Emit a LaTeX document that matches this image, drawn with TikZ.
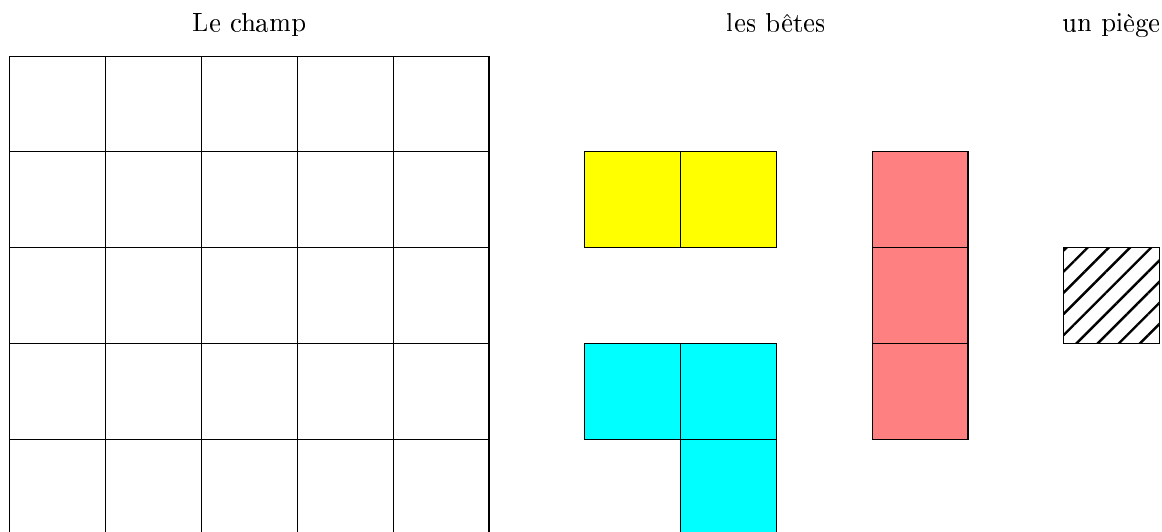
\documentclass[tikz,border=0pt]{standalone}
\usepackage[T1]{fontenc}
\usepackage{xcolor}
\usetikzlibrary{patterns.meta}
\definecolor{beastyellow}{RGB}{255, 255, 0}
\definecolor{beastcyan}{RGB}{0, 255, 255}
\definecolor{beastred}{RGB}{255, 128, 128}

\begin{document}
\begin{tikzpicture}[x=1.26cm, y=1.26cm]
        % Styles
        \tikzset{title/.style={anchor=base, inner sep=0pt}}
        \tikzset{cell/.style={draw=black, thin}}
        \tikzset{trap/.style={draw=black, thin, pattern={Lines[angle=45, distance=5.6pt, line width=0.9pt]}}}

        \useasboundingbox (-0.104,0.042) rectangle (12.025,5.585);

        % Titles
        \node[title] (champ) at (2.5,5.26) {Le champ};
        \node[title] (betes) at (8,5.26) {les bêtes};
        \node[title] (piege) at (11.5,5.26) {un piège};

        % Field
        \draw[cell] (0,0) grid[step={(1,1)}] (5,5);

        % Beasts
        \foreach \x/\y in {6/3, 7/3}
            \draw[cell, fill=beastyellow] (\x,\y) rectangle ++(1,1);
        \foreach \x/\y in {6/1, 7/1, 7/0}
            \draw[cell, fill=beastcyan] (\x,\y) rectangle ++(1,1);
        \foreach \y in {1,2,3}
            \draw[cell, fill=beastred] (9,\y) rectangle ++(1,1);

        % Trap
        \draw[trap] (11,2) rectangle ++(1,1);
    \end{tikzpicture}
\end{document}
